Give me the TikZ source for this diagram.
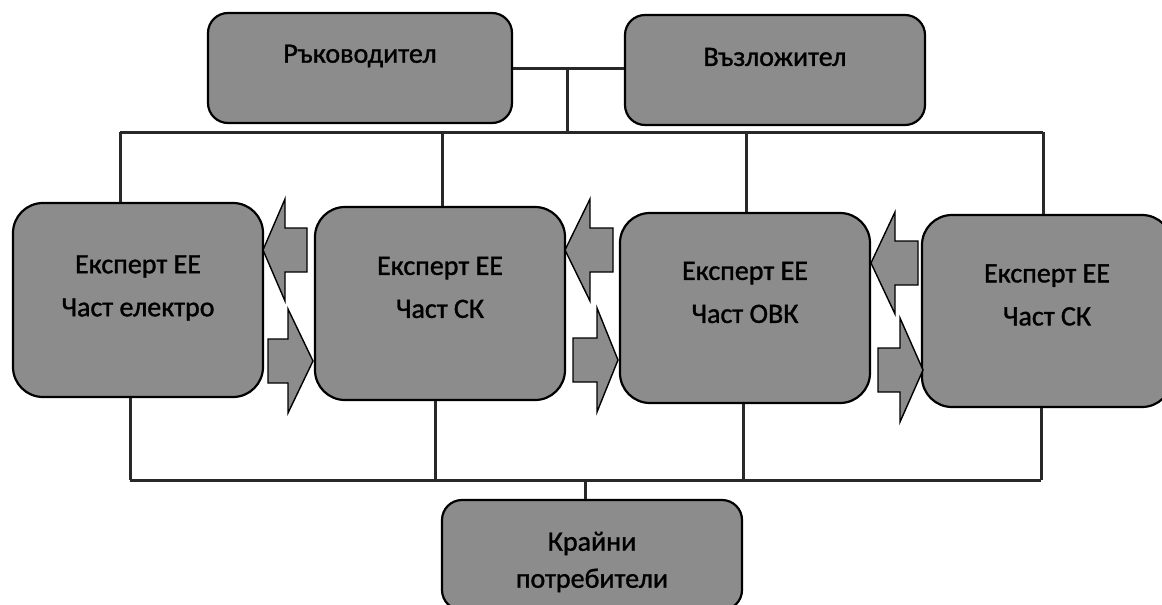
\documentclass[tikz,border=0pt]{standalone}
\usepackage{fontspec}
\setmainfont{Carlito}[FakeBold=1.2]
\definecolor{boxgray}{RGB}{140,140,140}
\definecolor{wiregray}{RGB}{40,40,40}
\begin{document}
\begin{tikzpicture}[x=1pt,y=-1pt,
  box/.style={draw=black, line width=2.2pt, fill=boxgray, rounded corners=30pt,
              minimum width=250pt, inner sep=0pt},
  topbox/.style={box, rounded corners=20pt, minimum height=110pt},
  txt/.style={font=\fontsize{28}{43}\selectfont, align=center, text=black, inner sep=0pt},
  wire/.style={draw=wiregray, line width=3pt},
  blockarrow/.style={draw=black, line width=1.4pt, fill=boxgray, line join=miter}]
\useasboundingbox (0,0) rectangle (1162,605);

% connectors top (coordinates)
\coordinate (j) at (567,68);
\coordinate (tj) at (567,132);
\coordinate (t1c) at (120,132);
\coordinate (t2c) at (442,132);
\coordinate (t3c) at (746,132);
\coordinate (t4c) at (1043,132);
\coordinate (u1c) at (130,480);
\coordinate (u2c) at (435,480);
\coordinate (u3c) at (743,480);
\coordinate (u4c) at (1041,480);
\coordinate (uk) at (585,480);

% top boxes
\node[topbox, minimum width=304pt] (r) at (360,68) {};
\node[txt] (rt) at ([yshift=12pt]r.center) {Ръководител};
\node[topbox, minimum width=300pt] (v) at (775,70) {};
\node[txt] (vt) at ([yshift=13pt]v.center) {Възложител};

% expert boxes
\node[box, minimum height=194pt] (b1) at (138,300) {};
\node[txt] (t1) at ([yshift=12pt]b1.center) {Експерт ЕЕ\\Част електро};
\node[box, minimum height=193pt] (b2) at (440,303.5) {};
\node[txt] (t2) at ([yshift=16pt]b2.center) {Експерт ЕЕ\\Част СК};
\node[box, minimum height=190pt] (b3) at (745,308) {};
\node[txt] (t3) at ([yshift=15.5pt]b3.center) {Експерт ЕЕ\\Част ОВК};
\node[box, minimum height=192pt] (b4) at (1047,311) {};
\node[txt] (t4) at ([yshift=16pt]b4.center) {Експерт ЕЕ\\Част СК};

% end users
\node[topbox, minimum width=300pt] (k) at (592,555) {};
\node[txt, font=\fontsize{28}{37}\selectfont] (kt) at ([yshift=-7pt]k.center) {Крайни\\потребители};

% connectors top
\draw[wire] (r.east) -- (r.east -| v.west);
\draw[wire] (j) -- (tj);
\draw[wire] (t1c) -- (t4c);
\draw[wire] (t1c) -- (t1c |- b1.north);
\draw[wire] (t2c) -- (t2c |- b2.north);
\draw[wire] (t3c) -- (t3c |- b3.north);
\draw[wire] (t4c) -- (t4c |- b4.north);

% connectors bottom
\draw[wire] (u1c) -- (u4c);
\draw[wire] (u1c |- b1.south) -- (u1c);
\draw[wire] (u2c |- b2.south) -- (u2c);
\draw[wire] (u3c |- b3.south) -- (u3c);
\draw[wire] (u4c |- b4.south) -- (u4c);
\draw[wire] (uk) -- (uk |- k.north);

% block arrows between b1 and b2
\draw[blockarrow] (263,250) -- (285,199) -- (285,228) -- (307,228) -- (307,272) -- (285,272) -- (285,301) -- cycle;
\draw[blockarrow] (313,361) -- (288,309) -- (288,339) -- (268,339) -- (268,383) -- (288,383) -- (288,413) -- cycle;
% between b2 and b3
\draw[blockarrow] (565,250) -- (590,199) -- (590,228) -- (613,228) -- (613,272) -- (590,272) -- (590,301) -- cycle;
\draw[blockarrow] (618,360) -- (597,308) -- (597,338) -- (573,338) -- (573,382) -- (597,382) -- (597,412) -- cycle;
% between b3 and b4
\draw[blockarrow] (871,263) -- (895,212) -- (895,241) -- (918,241) -- (918,285) -- (895,285) -- (895,314) -- cycle;
\draw[blockarrow] (923,370) -- (900,318) -- (900,348) -- (878,348) -- (878,392) -- (900,392) -- (900,422) -- cycle;
\end{tikzpicture}
\end{document}
